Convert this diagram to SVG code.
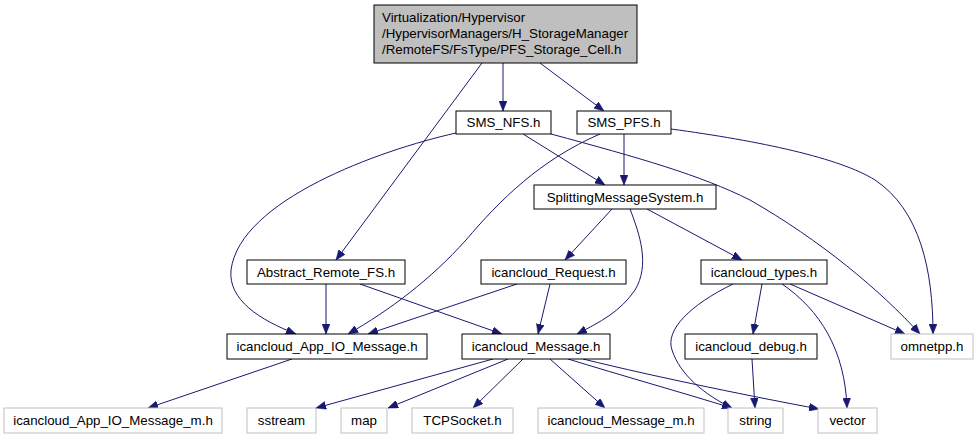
<svg xmlns="http://www.w3.org/2000/svg" width="979" height="440" viewBox="0 0 979 440">
<style>
.n rect{fill:#ffffff;stroke:#000000;stroke-width:1}
.g rect{fill:#ffffff;stroke:#bfbfbf;stroke-width:1}
.top rect{fill:#bfbfbf;stroke:#000000;stroke-width:1}
text{font-family:"Liberation Sans",Arial,sans-serif;font-size:13.3px;fill:#000000}
.c{text-anchor:middle}
#edges path{fill:none;stroke:#191970;stroke-width:1;marker-end:url(#ah)}
</style>
<defs>
<marker id="ah" markerUnits="userSpaceOnUse" markerWidth="10" markerHeight="8" refX="10" refY="4" orient="auto" viewBox="0 0 10 8">
<path d="M0,0 L10,4 L0,8 z" fill="#191970" stroke="#191970" stroke-width="0.5"/>
</marker>
</defs>
<rect width="979" height="440" fill="#ffffff"/>
<g id="edges">
<path d="M482,63 L336,260"/>
<path d="M503,63 L503,111"/>
<path d="M540,63 L604,111"/>
<path d="M456,133 C380,150 240,200 231,270 C228,300 260,320 296,334"/>
<path d="M600,134 C540,160 500,200 466,240 C430,280 390,310 348,334"/>
<path d="M523,134 L605,185"/>
<path d="M624,134 L624,185"/>
<path d="M551,134 C640,158 700,175 750,200 C820,240 880,290 920,334"/>
<path d="M671,129 C760,141 840,158 875,180 C920,210 933,270 933,334"/>
<path d="M612,209 L565,260"/>
<path d="M630,209 C640,235 650,265 635,290 C620,312 600,322 577,334"/>
<path d="M647,209 L742,260"/>
<path d="M326,284 L326,334"/>
<path d="M360,284 L502,334"/>
<path d="M517,284 L368,334"/>
<path d="M550,284 L538,334"/>
<path d="M762,284 L753,334"/>
<path d="M790,284 L905,334"/>
<path d="M733,284 C690,305 665,330 672,350 C680,375 705,395 732,408"/>
<path d="M782,284 C820,310 845,350 847,408"/>
<path d="M752,359 L755,408"/>
<path d="M292,359 L148,408"/>
<path d="M493,359 L316,408"/>
<path d="M508,359 L388,408"/>
<path d="M523,359 L473,408"/>
<path d="M550,359 L605,408"/>
<path d="M568,359 C620,375 680,392 732,408"/>
<path d="M583,359 C660,378 760,398 819,409"/>
</g>
<g id="node-top" class="top">
<rect x="374" y="5" width="263" height="58"/>
<text x="382" y="22">Virtualization/Hypervisor</text>
<text x="382" y="38">/HypervisorManagers/H_StorageManager</text>
<text x="382" y="54">/RemoteFS/FsType/PFS_Storage_Cell.h</text>
</g>
<g id="node-sms-nfs" class="n"><rect x="456" y="111" width="95" height="23"/><text class="c" x="503.5" y="127">SMS_NFS.h</text></g>
<g id="node-sms-pfs" class="n"><rect x="577" y="111" width="94" height="23"/><text class="c" x="624" y="127">SMS_PFS.h</text></g>
<g id="node-splitting" class="n"><rect x="534" y="185" width="182" height="24"/><text class="c" x="625" y="201.5">SplittingMessageSystem.h</text></g>
<g id="node-abstract" class="n"><rect x="247" y="260" width="158" height="24"/><text class="c" x="326" y="276.5">Abstract_Remote_FS.h</text></g>
<g id="node-request" class="n"><rect x="481" y="260" width="145" height="24"/><text class="c" x="553.5" y="276.5">icancloud_Request.h</text></g>
<g id="node-types" class="n"><rect x="701" y="260" width="126" height="24"/><text class="c" x="764" y="276.5">icancloud_types.h</text></g>
<g id="node-appio" class="n"><rect x="227" y="334" width="200" height="25"/><text class="c" x="327" y="351">icancloud_App_IO_Message.h</text></g>
<g id="node-message" class="n"><rect x="462" y="334" width="148" height="25"/><text class="c" x="536" y="351">icancloud_Message.h</text></g>
<g id="node-debug" class="n"><rect x="685" y="334" width="132" height="25"/><text class="c" x="751" y="351">icancloud_debug.h</text></g>
<g id="node-omnetpp" class="g"><rect x="891" y="334" width="82" height="25"/><text class="c" x="932" y="351">omnetpp.h</text></g>
<g id="node-appio-m" class="g"><rect x="4" y="408" width="218" height="25"/><text class="c" x="113" y="425">icancloud_App_IO_Message_m.h</text></g>
<g id="node-sstream" class="g"><rect x="247" y="408" width="69" height="25"/><text class="c" x="281.5" y="425">sstream</text></g>
<g id="node-map" class="g"><rect x="341" y="408" width="46" height="25"/><text class="c" x="364" y="425">map</text></g>
<g id="node-tcpsocket" class="g"><rect x="412" y="408" width="101" height="25"/><text class="c" x="462.5" y="425">TCPSocket.h</text></g>
<g id="node-message-m" class="g"><rect x="538" y="408" width="166" height="25"/><text class="c" x="621" y="425">icancloud_Message_m.h</text></g>
<g id="node-string" class="g"><rect x="728" y="408" width="55" height="25"/><text class="c" x="755.5" y="425">string</text></g>
<g id="node-vector" class="g"><rect x="818" y="408" width="59" height="25"/><text class="c" x="847.5" y="425">vector</text></g>
</svg>
